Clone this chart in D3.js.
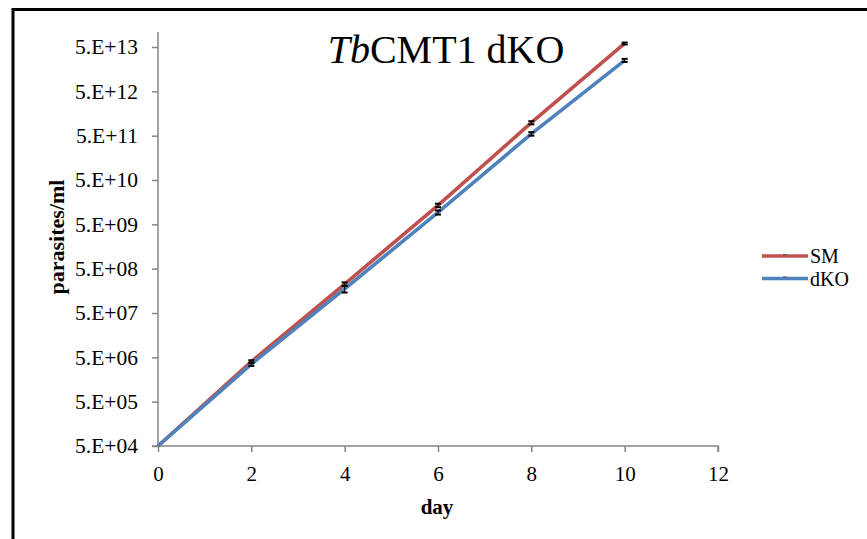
<!DOCTYPE html>
<html>
<head>
<meta charset="utf-8">
<script src="https://cdn.jsdelivr.net/npm/d3@7"></script>
<style>
  body { margin: 0; background: #fff; }
  svg { display: block; }
  text { font-family: "Liberation Serif", "Times New Roman", serif; fill: #000; }
</style>
</head>
<body>
<svg id="chart" width="867" height="539"></svg>
<script>
// Growth curves: parasites/ml over days
const days = [0, 2, 4, 6, 8, 10];
const smValues  = [5e4, 4.0e6, 2.25e8, 1.34e10, 9.8e11, 6.0e13];
const dkoValues = [5e4, 3.5e6, 1.75e8, 9.3e9, 5.5e11, 2.5e13];
const smErr  = [0, 0.3e6, 0.2e8, 1.2e9, 0.8e11, 0.3e13];
const dkoErr = [0, 0.3e6, 0.3e8, 1.0e9, 0.5e11, 0.2e13];
const seriesNames = ["SM", "dKO"];
const xTicks = [0, 2, 4, 6, 8, 10, 12];
const yTicks = [5e4, 5e5, 5e6, 5e7, 5e8, 5e9, 5e10, 5e11, 5e12, 5e13];
const yTickLabels = ["5.E+04", "5.E+05", "5.E+06", "5.E+07", "5.E+08",
                     "5.E+09", "5.E+10", "5.E+11", "5.E+12", "5.E+13"];
const colors = ["#C0504D", "#4F81BD"];

const svg = d3.select("#chart");

// outer frame
svg.append("rect")
  .attr("x", 13).attr("y", 9.5)
  .attr("width", 900).attr("height", 600)
  .attr("fill", "none").attr("stroke", "#000").attr("stroke-width", 3);

const x = d3.scaleLinear().domain([0, 12]).range([158, 718]);
const y = d3.scaleLog().domain([5e4, 5e13]).range([446, 47]);

const axisColor = "#868686";

// y axis
const yAxis = svg.append("g")
  .attr("transform", "translate(158,0)")
  .call(d3.axisLeft(y).tickValues(yTicks)
    .tickFormat((d, i) => yTickLabels[i]).tickSize(6).tickPadding(14));
yAxis.select(".domain").attr("stroke", axisColor).attr("stroke-width", 1.5)
  .attr("d", "M0,447V32");
yAxis.selectAll(".tick line").attr("stroke", axisColor).attr("stroke-width", 1.5);
yAxis.selectAll(".tick text").attr("font-size", 21.5)
  .attr("font-family", "Liberation Serif").attr("fill", "#000");

// x axis
const xAxis = svg.append("g")
  .attr("transform", "translate(0,446)")
  .call(d3.axisBottom(x).tickValues(xTicks).tickSize(6).tickPadding(14));
xAxis.select(".domain").attr("stroke", axisColor).attr("stroke-width", 1.5)
  .attr("d", "M152,0H718V6");
xAxis.selectAll(".tick line").attr("stroke", axisColor).attr("stroke-width", 1.5);
xAxis.selectAll(".tick text").attr("font-size", 21)
  .attr("font-family", "Liberation Serif").attr("fill", "#000");

// axis titles
svg.append("text")
  .attr("x", 437).attr("y", 514)
  .attr("text-anchor", "middle")
  .attr("font-size", 21).attr("font-weight", "bold")
  .text("day");
svg.append("text")
  .attr("transform", "translate(64,237) rotate(-90)")
  .attr("text-anchor", "middle")
  .attr("font-size", 22).attr("font-weight", "bold")
  .text("parasites/ml");

// title
const title = svg.append("text")
  .attr("x", 446).attr("y", 63)
  .attr("text-anchor", "middle")
  .attr("font-size", 40);
title.append("tspan").attr("font-style", "italic").text("Tb");
title.append("tspan").text("CMT1 dKO");

// series
const series = [smValues, dkoValues];
const errs = [smErr, dkoErr];
const line = d3.line().x((d, i) => x(days[i])).y(d => y(d));

series.forEach((vals, s) => {
  svg.append("path")
    .datum(vals)
    .attr("d", line)
    .attr("fill", "none")
    .attr("stroke", colors[s])
    .attr("stroke-width", 3.6)
    .attr("stroke-linejoin", "round");
});

// error bars
series.forEach((vals, s) => {
  const g = svg.append("g");
  vals.forEach((v, i) => {
    const e = errs[s][i];
    if (!e) return;
    const cx = x(days[i]);
    const y1 = y(v + e), y2 = y(v - e);
    g.append("line").attr("x1", cx).attr("x2", cx).attr("y1", y1).attr("y2", y2)
      .attr("stroke", "#000").attr("stroke-width", 1);
    [y1, y2].forEach(yy => {
      g.append("line").attr("x1", cx - 3).attr("x2", cx + 3).attr("y1", yy).attr("y2", yy)
        .attr("stroke", "#000").attr("stroke-width", 2);
    });
  });
});

// legend
const legend = svg.append("g");
seriesNames.forEach((name, i) => {
  const ly = 256 + i * 22.5;
  legend.append("line")
    .attr("x1", 762).attr("x2", 808).attr("y1", ly).attr("y2", ly)
    .attr("stroke", colors[i]).attr("stroke-width", 3.6);
  legend.append("line")
    .attr("x1", 783).attr("x2", 787).attr("y1", ly - 1.5).attr("y2", ly - 1.5)
    .attr("stroke", "#555").attr("stroke-width", 1);
  legend.append("text")
    .attr("x", 810).attr("y", ly + 7)
    .attr("font-size", 20)
    .text(name);
});
</script>
</body>
</html>
